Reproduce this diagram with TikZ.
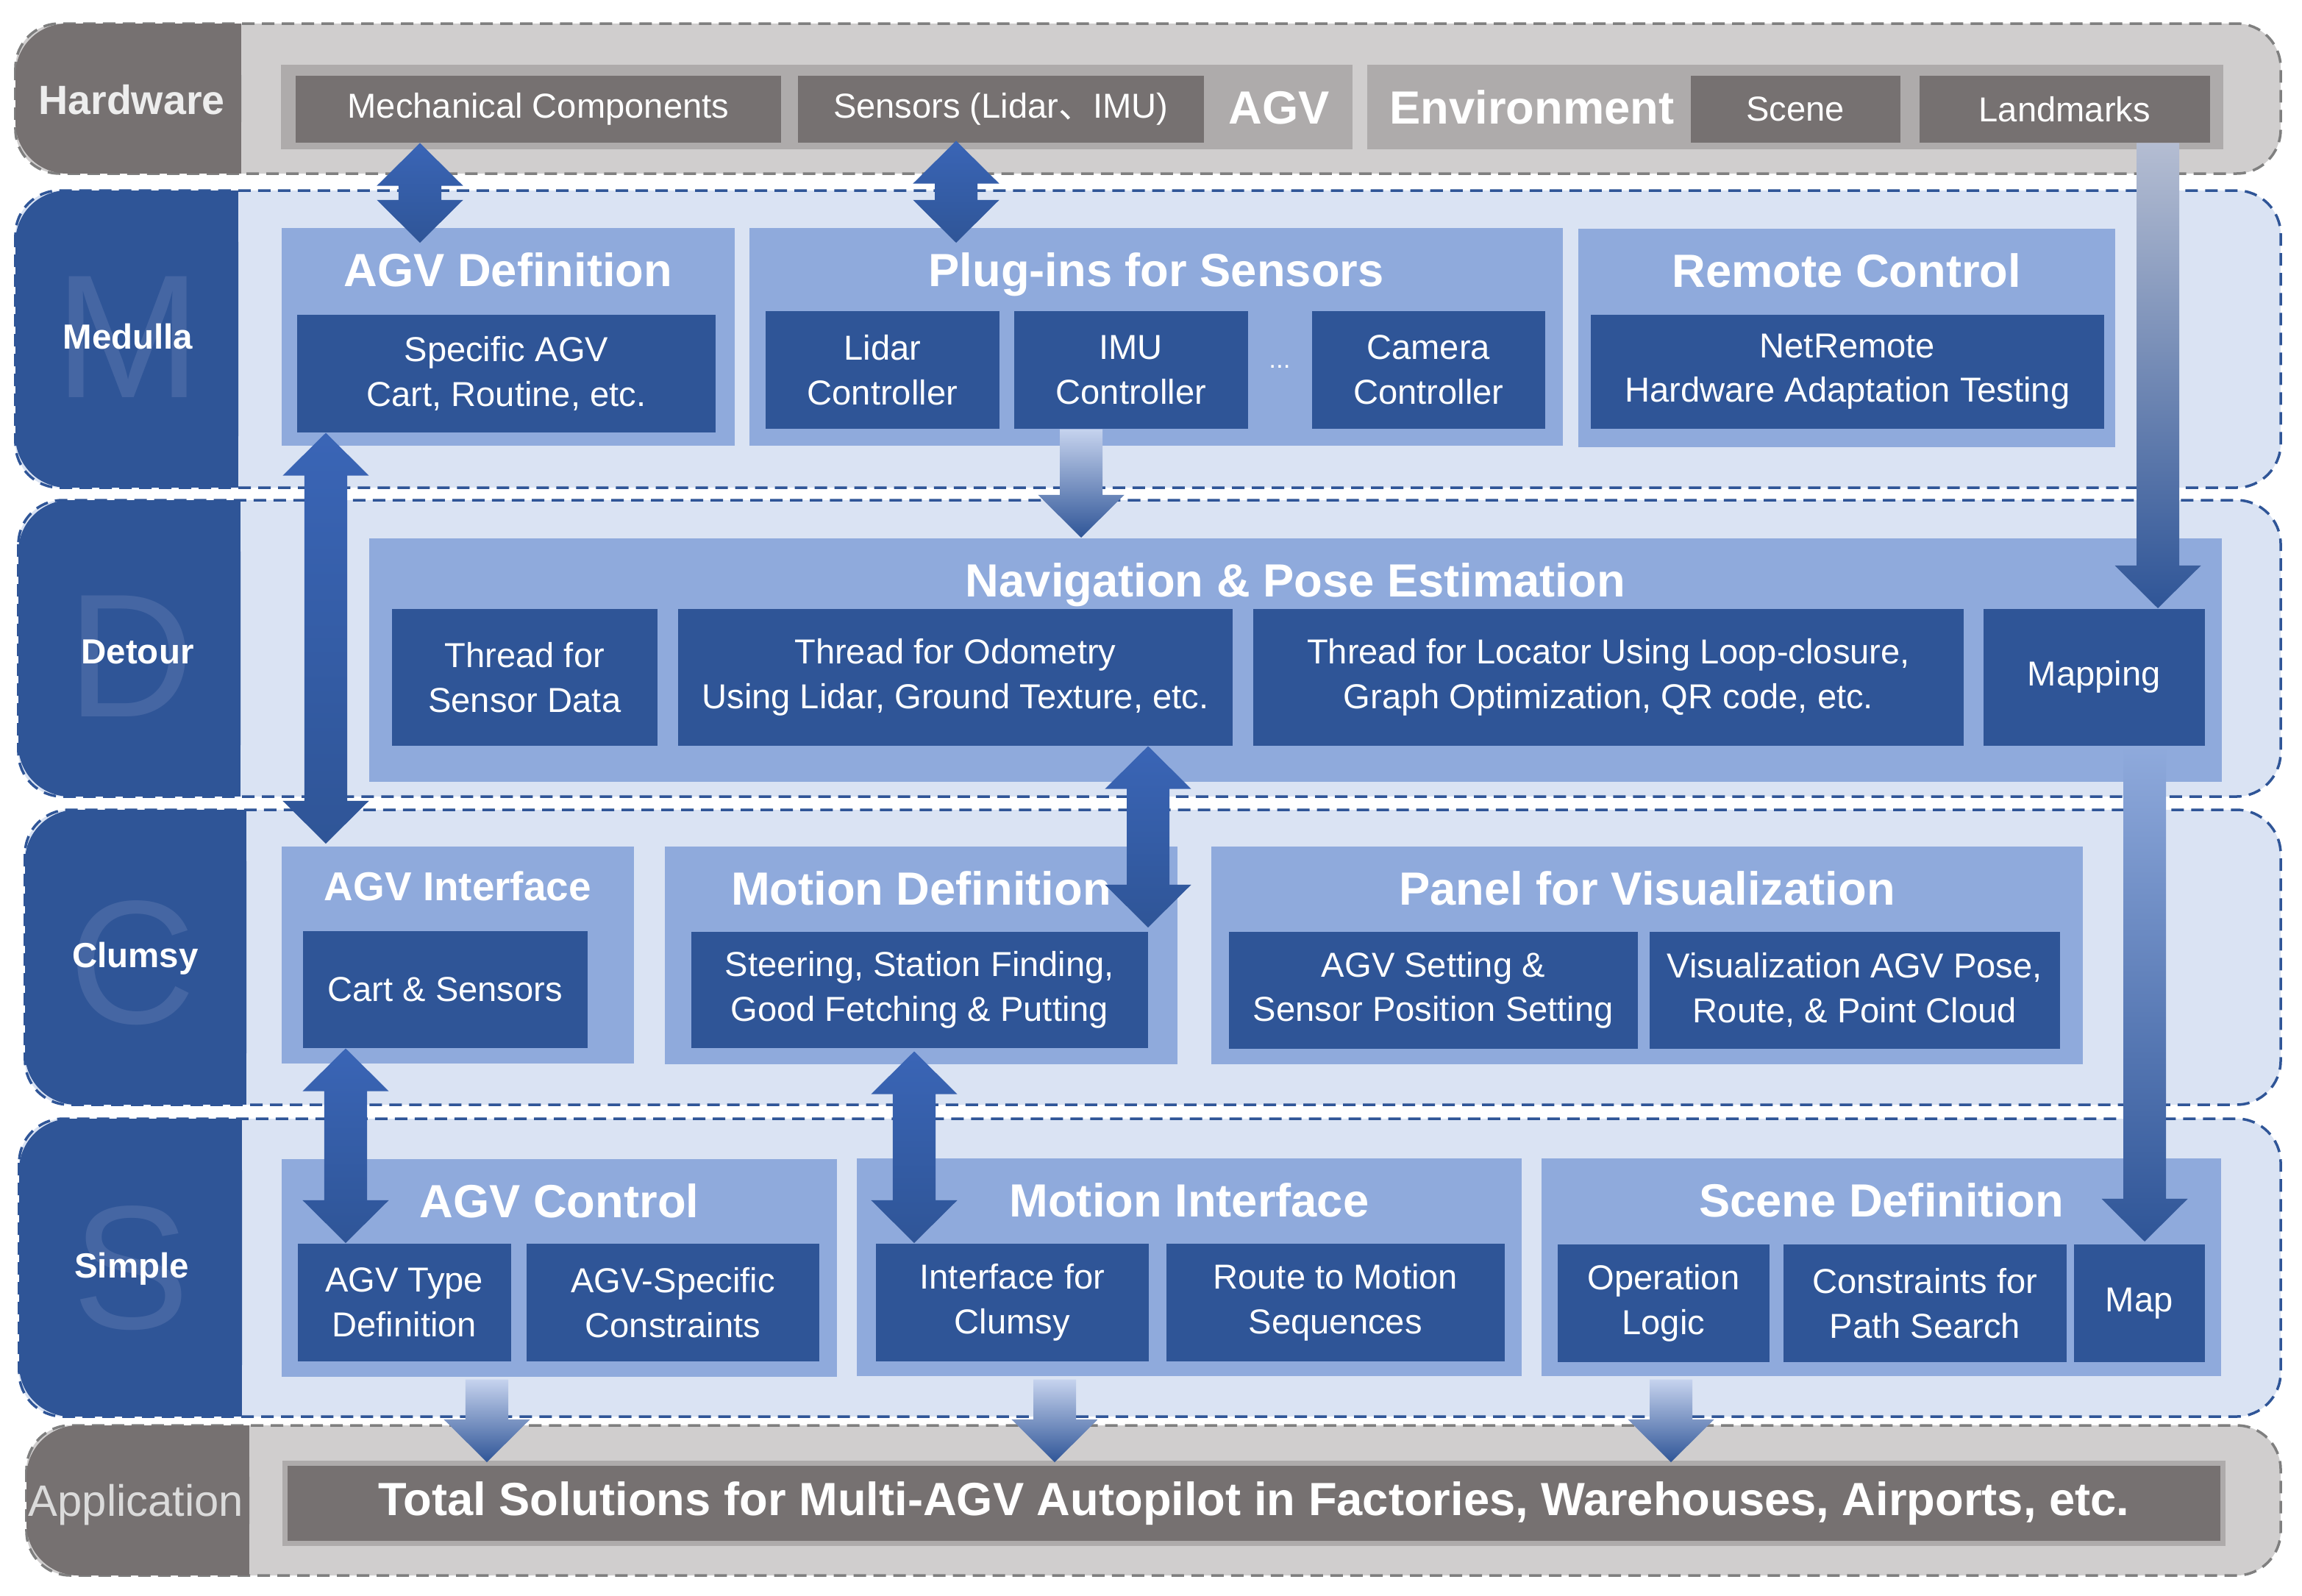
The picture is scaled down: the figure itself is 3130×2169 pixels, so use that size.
\documentclass[tikz,border=0pt]{standalone}
\usepackage{fontspec}
\setmainfont{Liberation Sans}
\newfontfamily\cjk{Noto Sans CJK SC}
\usetikzlibrary{calc}

\definecolor{hwdark}{HTML}{767171}
\definecolor{hwmid}{HTML}{AEABAB}
\definecolor{hwlight}{HTML}{D0CECE}
\definecolor{hwline}{HTML}{7F7F7F}
\definecolor{bldark}{HTML}{2F5597}
\definecolor{blmid}{HTML}{8FAADC}
\definecolor{bllight}{HTML}{DAE3F3}
\definecolor{blmark}{HTML}{4566A3}
\definecolor{arrhi}{HTML}{3A65B6}
\definecolor{arrlt}{HTML}{A3B6DD}
\definecolor{arrfade}{HTML}{C6D3EE}
\definecolor{arrgrey}{HTML}{B4BDD2}

% arrow geometry
\newcommand{\ahw}{0.585cm}
\newcommand{\asw}{0.29cm}
\newcommand{\ahl}{0.58cm}

% block arrow with two heads, #1 top tip, #2 bottom tip
\newcommand{\dblarrow}[2]{%
\shade[dblshade] let \p1=(#1), \p2=(#2) in
 (\x1,\y1) -- (\x1-\ahw,\y1-\ahl) -- (\x1-\asw,\y1-\ahl) -- (\x1-\asw,\y2+\ahl)
 -- (\x1-\ahw,\y2+\ahl) -- (\x1,\y2) -- (\x1+\ahw,\y2+\ahl) -- (\x1+\asw,\y2+\ahl)
 -- (\x1+\asw,\y1-\ahl) -- (\x1+\ahw,\y1-\ahl) -- cycle;}

% block arrow pointing down, #2 start, #3 tip
\newcommand{\sglarrow}[3][]{%
\shade[sglshade,#1] let \p1=(#2), \p2=(#3) in
 (\x1-\asw,\y1) -- (\x1-\asw,\y2+\ahl) -- (\x1-\ahw,\y2+\ahl) -- (\x1,\y2)
 -- (\x1+\ahw,\y2+\ahl) -- (\x1+\asw,\y2+\ahl) -- (\x1+\asw,\y1) -- cycle;}

\tikzset{
    hwband/.style={ % grey layer
        fill=hwlight,
        draw=hwline,
        dash pattern=on 0.17cm off 0.1cm,
        line width=0.035cm,
        rounded corners=0.6cm
        },
    blband/.style={ % blue layer
        hwband,
        fill=bllight,
        draw=bldark
        },
    sz/.style 2 args={
        minimum width=#1cm,
        minimum height=#2cm
        },
    hwbox/.style={
        rectangle,
        anchor=north west,
        fill=hwdark,
        text=white,
        inner sep=0pt,
        font=\fontsize{13.4}{17.3}\selectfont
        },
    hwcont/.style={ % grey container
        hwbox,
        fill=hwmid
        },
    cont/.style={ % light blue container
        rectangle,
        anchor=north west,
        fill=blmid,
        inner sep=0pt
        },
    inbox/.style={ % dark blue item
        hwbox,
        fill=bldark,
        align=center
        },
    ttl/.style={
        anchor=base,
        text=white,
        inner sep=0pt,
        font=\fontsize{18}{22}\selectfont\bfseries
        },
    lbl/.style={
        ttl,
        font=\fontsize{13.5}{16}\selectfont\bfseries
        },
    wmark/.style={ % big letter behind the layer name
        anchor=base,
        text=blmark,
        inner sep=0pt,
        font=\fontsize{68}{68}\selectfont
        },
    dblshade/.style={
        top color=arrhi,
        middle color=arrlt,
        bottom color=bldark
        },
    sglshade/.style={
        top color=arrfade,
        middle color=arrhi,
        bottom color=bldark
        }
}

\begin{document}
\begin{tikzpicture}[x=0.01cm,y=-0.01cm]
\useasboundingbox (0,0) rectangle (3130,2169);

%%%%% layer Hardware
\draw[hwband] (21,32) rectangle (3101,236);
\fill[hwdark, rounded corners=0.7cm] (21,32) rectangle (328,236);
\fill[hwdark] (180,32) rectangle (328,236);
\node[lbl, text=white!93!black, font=\fontsize{15.8}{18}\selectfont\bfseries] (lhw) at (179,155) {Hardware};

\node[hwcont, sz={14.56}{1.15}] (agvhw) at (381,87) {};
\node[hwbox, sz={6.60}{0.91}] (mech) at (401,102) {Mechanical Components};
\node[hwbox, sz={5.52}{0.91}] (sens) at (1084,102) {Sensors (Lidar{\cjk 、}IMU)};
\node[ttl] (tagv) at (1739,168) {AGV};

\node[hwcont, sz={11.64}{1.15}] (envhw) at (1858,87) {};
\node[ttl] (tenv) at (2083,168) {Environment};
\node[hwbox, sz={2.85}{0.91}] (scene) at (2298,102) {Scene};
\node[hwbox, sz={3.95}{0.91}] (landm) at (2609,102) {Landmarks};

%%%%% layer Medulla
\draw[blband] (21,259) rectangle (3101,663);
\fill[bldark, rounded corners=0.7cm] (21,259) rectangle (324,663);
\fill[bldark] (180,259) rectangle (324,663);
\node[wmark] (wm) at (174,540) {M};
\node[lbl] (lmed) at (174,474) {Medulla};

\node[cont, sz={6.16}{2.96}] (agvdef) at (382,309) {};
\node[ttl] (tagvdef) at ([yshift=-0.8cm]agvdef.north) {AGV Definition};
\node[inbox, sz={5.69}{1.60}] (specagv) at (403,427) {Specific AGV\\Cart, Routine, etc.};

\node[cont, sz={11.06}{2.96}] (plugins) at (1018,309) {};
\node[ttl] (tplugins) at ([yshift=-0.8cm]plugins.north) {Plug-ins for Sensors};
\node[inbox, sz={3.18}{1.60}] (lidar) at (1040,422) {Lidar\\Controller};
\node[inbox, sz={3.18}{1.60}] (imu) at (1378,422) {IMU\\Controller};
\node[text=white, inner sep=0pt, font=\fontsize{10}{12}\selectfont] (dots) at (1740,499) {...};
\node[inbox, sz={3.17}{1.60}] (camera) at (1783,422) {Camera\\Controller};

\node[cont, sz={7.30}{2.97}] (remote) at (2145,310) {};
\node[ttl] (tremote) at ([yshift=-0.8cm]remote.north) {Remote Control};
\node[inbox, sz={6.98}{1.55}] (netrem) at (2162,427) {NetRemote\\Hardware Adaptation Testing};

%%%%% layer Detour
\draw[blband] (25,680) rectangle (3101,1083);
\fill[bldark, rounded corners=0.7cm] (25,680) rectangle (327,1083);
\fill[bldark] (180,680) rectangle (327,1083);
\node[wmark] (wd) at (178,974) {D};
\node[lbl] (ldet) at (187,902) {Detour};

\node[cont, sz={25.18}{3.31}] (nav) at (501,731) {};
\node[ttl] (tnav) at ([yshift=-0.8cm]nav.north) {Navigation \& Pose Estimation};
\node[inbox, sz={3.61}{1.86}] (sdata) at (532,827) {Thread for\\Sensor Data};
\node[inbox, sz={7.54}{1.86}] (odom) at (921,827) {Thread for Odometry\\Using Lidar, Ground Texture, etc.};
\node[inbox, sz={9.66}{1.86}] (locat) at (1703,827) {Thread for Locator Using Loop-closure,\\Graph Optimization, QR code, etc.};
\node[inbox, sz={3.01}{1.86}] (mapping) at (2696,827) {Mapping};

%%%%% layer Clumsy
\draw[blband] (34,1101) rectangle (3101,1502);
\fill[bldark, rounded corners=0.7cm] (34,1101) rectangle (335,1502);
\fill[bldark] (180,1101) rectangle (335,1502);
\node[wmark] (wc) at (180,1391) {C};
\node[lbl] (lclu) at (184,1315) {Clumsy};

\node[cont, sz={4.79}{2.95}] (agvif) at (382,1150) {};
\node[ttl, font=\fontsize{15.6}{19}\selectfont\bfseries] (tagvif) at ([yshift=-0.74cm]agvif.north) {AGV Interface};
\node[inbox, sz={3.87}{1.59}] (cart) at (411,1265) {Cart \& Sensors};

\node[cont, sz={6.97}{2.96}] (motdef) at (903,1150) {};
\node[ttl] (tmotdef) at ([yshift=-0.8cm]motdef.north) {Motion Definition};
\node[inbox, sz={6.21}{1.58}] (steer) at (939,1266) {Steering, Station Finding,\\Good Fetching \& Putting};

\node[cont, sz={11.85}{2.96}] (panel) at (1646,1150) {};
\node[ttl] (tpanel) at ([yshift=-0.8cm]panel.north) {Panel for Visualization};
\node[inbox, sz={5.56}{1.59}] (agvset) at (1670,1266) {AGV Setting \&\\Sensor Position Setting};
\node[inbox, sz={5.58}{1.59}] (vispose) at (2242,1266) {Visualization AGV Pose,\\Route, \& Point Cloud};

%%%%% layer Simple
\draw[blband] (26,1521) rectangle (3101,1926);
\fill[bldark, rounded corners=0.7cm] (26,1521) rectangle (329,1926);
\fill[bldark] (180,1521) rectangle (329,1926);
\node[wmark] (ws) at (178,1806) {S};
\node[lbl] (lsim) at (179,1737) {Simple};

\node[cont, sz={7.55}{2.96}] (agvctl) at (382,1575) {};
\node[ttl] (tagvctl) at ([yshift=-0.8cm]agvctl.north) {AGV Control};
\node[inbox, sz={2.90}{1.60}] (agvtype) at (404,1690) {AGV Type\\Definition};
\node[inbox, sz={3.98}{1.60}] (agvspec) at (715,1690) {AGV-Specific\\Constraints};

\node[cont, sz={9.04}{2.96}] (motif) at (1164,1574) {};
\node[ttl] (tmotif) at ([yshift=-0.8cm]motif.north) {Motion Interface};
\node[inbox, sz={3.71}{1.60}] (ifclum) at (1190,1690) {Interface for\\Clumsy};
\node[inbox, sz={4.60}{1.60}] (route) at (1585,1690) {Route to Motion\\Sequences};

\node[cont, sz={9.24}{2.96}] (scndef) at (2095,1574) {};
\node[ttl] (tscndef) at ([yshift=-0.8cm]scndef.north) {Scene Definition};
\node[inbox, sz={2.88}{1.60}] (oplog) at (2117,1691) {Operation\\Logic};
\node[inbox, sz={3.85}{1.60}] (constr) at (2424,1691) {Constraints for\\Path Search};
\node[inbox, sz={1.78}{1.60}] (map) at (2819,1691) {Map};

%%%%% layer Application
\draw[hwband] (36,1938) rectangle (3101,2142);
\fill[hwdark, rounded corners=0.7cm] (36,1938) rectangle (339,2142);
\fill[hwdark] (180,1938) rectangle (339,2142);
\node[lbl, text=white!86!black, font=\fontsize{17}{20}\selectfont] (lapp) at (185,2061) {Application};

\node[hwbox, sz={26.33}{1.09}, draw=hwmid, line width=0.07cm,
      font=\fontsize{18}{22}\selectfont\bfseries] (total) at (384,1986)
      {Total Solutions for Multi-AGV Autopilot in Factories, Warehouses, Airports, etc.};

%%%%% arrows between layers
\coordinate (a1t) at (571,0 |- mech.south);
\coordinate (a1b) at ($(571,0 |- agvdef.north)+(0,21)$);
\dblarrow{a1t}{a1b}

\coordinate (a2t) at ($(1300,0 |- sens.south)+(0,-3)$);
\coordinate (a2b) at ($(1300,0 |- plugins.north)+(0,21)$);
\dblarrow{a2t}{a2b}

\coordinate (a3t) at (1470,0 |- imu.south);
\coordinate (a3b) at (1470,0 |- nav.north);
\sglarrow{a3t}{a3b}

\coordinate (a4t) at (2934,0 |- landm.south);
\coordinate (a4b) at (2934,0 |- mapping.north);
\sglarrow[top color=arrgrey]{a4t}{a4b}

\coordinate (a5t) at (443,0 |- specagv.south);
\coordinate (a5b) at ($(443,0 |- agvif.north)+(0,-3)$);
\dblarrow{a5t}{a5b}

\coordinate (a6t) at (1561,0 |- odom.south);
\coordinate (a6b) at ($(1561,0 |- steer.north)+(0,-5)$);
\dblarrow{a6t}{a6b}

\coordinate (a7t) at (2916,0 |- mapping.south);
\coordinate (a7b) at ($(2916,0 |- map.north)+(0,-3)$);
\sglarrow[top color=blmid]{a7t}{a7b}

\coordinate (a8t) at (470,0 |- cart.south);
\coordinate (a8b) at (470,0 |- agvtype.north);
\dblarrow{a8t}{a8b}

\coordinate (a9t) at ($(1243,0 |- steer.south)+(0,4)$);
\coordinate (a9b) at (1243,0 |- ifclum.north);
\dblarrow{a9t}{a9b}

%%%%% arrows to the application
\coordinate (b1t) at ($(662,0 |- agvctl.south)+(0,3)$);
\coordinate (b1b) at ($(662,0 |- total.north)+(0,2)$);
\sglarrow{b1t}{b1b}

\coordinate (b2t) at ($(1434,0 |- motif.south)+(0,4)$);
\coordinate (b2b) at ($(1434,0 |- total.north)+(0,2)$);
\sglarrow{b2t}{b2b}

\coordinate (b3t) at ($(2272,0 |- scndef.south)+(0,4)$);
\coordinate (b3b) at ($(2272,0 |- total.north)+(0,2)$);
\sglarrow{b3t}{b3b}

\end{tikzpicture}
\end{document}
